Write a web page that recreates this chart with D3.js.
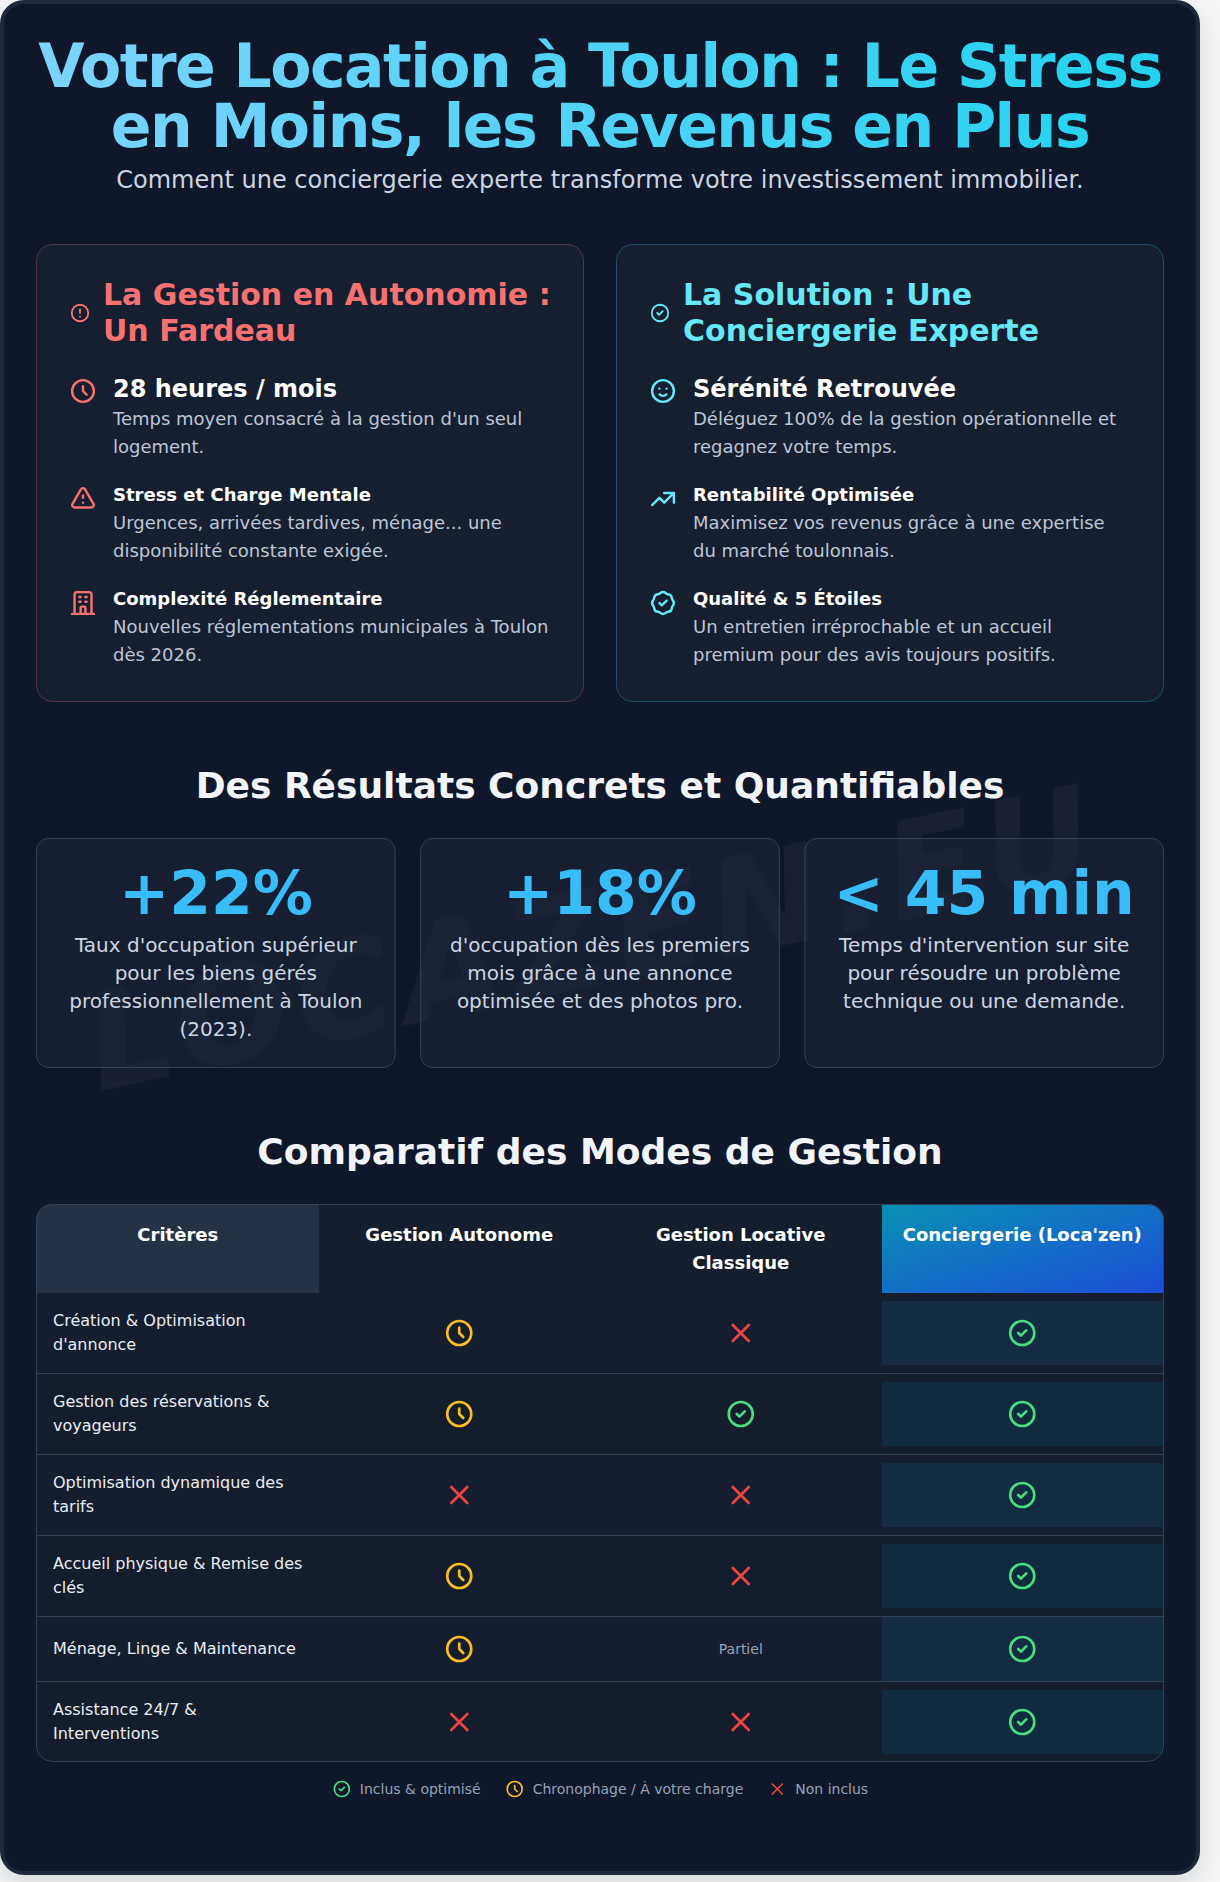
<!DOCTYPE html>
<html lang="fr">
<head>
<meta charset="utf-8">
<title>Votre Location à Toulon</title>
<script src="https://cdn.jsdelivr.net/npm/d3@7"></script>
<style>
  html, body { margin: 0; background: #f5f6f7; }
  svg { display: block; }
  text { font-family: "DejaVu Sans", sans-serif; }
</style>
</head>
<body>
<div id="visualization"></div>
<script>
// Text content
const titleLines = ['Votre Location à Toulon : Le Stress', 'en Moins, les Revenus en Plus'];
const subtitle = 'Comment une conciergerie experte transforme votre investissement immobilier.';
const watermark = "LOCAZEN.EU";

const problemHeading = ['La Gestion en Autonomie :', 'Un Fardeau'];
const problemIcons = ['clock', 'warning', 'building'];
const problemTitles = ['28 heures / mois', 'Stress et Charge Mentale', 'Complexité Réglementaire'];
const problemTexts = [
    ["Temps moyen consacré à la gestion d'un seul", 'logement.'],
    ['Urgences, arrivées tardives, ménage... une', 'disponibilité constante exigée.'],
    ['Nouvelles réglementations municipales à Toulon', 'dès 2026.']
];

const solutionHeading = ['La Solution : Une', 'Conciergerie Experte'];
const solutionIcons = ['smile', 'trend', 'badge'];
const solutionTitles = ['Sérénité Retrouvée', 'Rentabilité Optimisée', 'Qualité & 5 Étoiles'];
const solutionTexts = [
    ['Déléguez 100% de la gestion opérationnelle et', 'regagnez votre temps.'],
    ['Maximisez vos revenus grâce à une expertise', 'du marché toulonnais.'],
    ['Un entretien irréprochable et un accueil', 'premium pour des avis toujours positifs.']
];

const resultsTitle = 'Des Résultats Concrets et Quantifiables';
const statValues = ['+22%', '+18%', '< 45 min'];
const statTexts = [
    ["Taux d'occupation supérieur", 'pour les biens gérés', 'professionnellement à Toulon', '(2023).'],
    ["d'occupation dès les premiers", 'mois grâce à une annonce', 'optimisée et des photos pro.'],
    ["Temps d'intervention sur site", 'pour résoudre un problème', 'technique ou une demande.']
];

const tableTitle = 'Comparatif des Modes de Gestion';
const columnHeads = [
    ['Critères'],
    ['Gestion Autonome'],
    ['Gestion Locative', 'Classique'],
    ["Conciergerie (Loca'zen)"]
];
const criteria = [
    ['Création & Optimisation', "d'annonce"],
    ['Gestion des réservations &', 'voyageurs'],
    ['Optimisation dynamique des', 'tarifs'],
    ['Accueil physique & Remise des', 'clés'],
    ['Ménage, Linge & Maintenance'],
    ['Assistance 24/7 &', 'Interventions']
];
const autonomeStatus = ['time', 'time', 'no', 'time', 'time', 'no'];
const classiqueStatus = ['no', 'yes', 'no', 'no', 'partial', 'no'];
const conciergeStatus = ['yes', 'yes', 'yes', 'yes', 'yes', 'yes'];

const legendKeys = ['yes', 'time', 'no'];
const legendLabels = ['Inclus & optimisé', 'Chronophage / À votre charge', 'Non inclus'];

// Configuration
const config = {
    width: 1220,
    height: 1882,
    left: 36,
    right: 1164,
    center: 600
};

const colors = {
    page: '#0f172a',
    frame: '#1e293b',
    panel: '#161f30',
    red: '#f87171',
    cyan: '#67e8f9',
    sky: '#38bdf8',
    text: '#cbd5e1',
    soft: '#bcc6d6',
    heading: '#f1f5f9',
    line: '#334155',
    yes: '#4ade80',
    time: '#fbbf24',
    no: '#ef4444',
    muted: '#94a3b8'
};

// Outline icons, 24 unit box
const iconPaths = {
    alert: 'M12 8v4m0 4h.01M21 12a9 9 0 11-18 0 9 9 0 0118 0z',
    check: 'M9 12l2 2 4-4m6 2a9 9 0 11-18 0 9 9 0 0118 0z',
    clock: 'M12 8v4l3 3m6-3a9 9 0 11-18 0 9 9 0 0118 0z',
    cross: 'M6 18L18 6M6 6l12 12',
    warning: 'M12 9v2m0 4h.01m-6.938 4h13.856c1.54 0 2.502-1.667 1.732-3L13.732 4c-.77-1.333-2.694-1.333-3.464 0L3.34 16c-.77 1.333.192 3 1.732 3z',
    building: 'M19 21V5a2 2 0 00-2-2H7a2 2 0 00-2 2v16m14 0h2m-2 0h-5m-9 0H3m2 0h5M9 7h1m-1 4h1m4-4h1m-1 4h1m-5 10v-5a1 1 0 011-1h2a1 1 0 011 1v5m-4 0h4',
    smile: 'M14.828 14.828a4 4 0 01-5.656 0M9 10h.01M15 10h.01M21 12a9 9 0 11-18 0 9 9 0 0118 0z',
    trend: 'M13 7h8m0 0v8m0-8l-8 8-4-4-6 6',
    badge: 'M9 12l2 2 4-4M7.835 4.697a3.42 3.42 0 001.946-.806 3.42 3.42 0 014.438 0 3.42 3.42 0 001.946.806 3.42 3.42 0 013.138 3.138 3.42 3.42 0 00.806 1.946 3.42 3.42 0 010 4.438 3.42 3.42 0 00-.806 1.946 3.42 3.42 0 01-3.138 3.138 3.42 3.42 0 00-1.946.806 3.42 3.42 0 01-4.438 0 3.42 3.42 0 00-1.946-.806 3.42 3.42 0 01-3.138-3.138 3.42 3.42 0 00-.806-1.946 3.42 3.42 0 010-4.438 3.42 3.42 0 00.806-1.946 3.42 3.42 0 013.138-3.138z'
};

const statusIcons = {
    yes: { path: 'check', color: colors.yes },
    time: { path: 'clock', color: colors.time },
    no: { path: 'cross', color: colors.no }
};

// Create SVG
const svg = d3.select('#visualization')
    .append('svg')
    .attr('width', config.width)
    .attr('height', config.height);

const defs = svg.append('defs');

// Gradients and shadows
const titleGradient = defs.append('linearGradient')
    .attr('id', 'title-gradient')
    .attr('gradientUnits', 'userSpaceOnUse')
    .attr('x1', config.left).attr('x2', config.right)
    .attr('y1', 0).attr('y2', 0);
titleGradient.append('stop').attr('offset', 0).attr('stop-color', '#7dd3fc');
titleGradient.append('stop').attr('offset', 1).attr('stop-color', '#22d3ee');

const headGradient = defs.append('linearGradient')
    .attr('id', 'head-gradient')
    .attr('x1', 0).attr('y1', 0).attr('x2', 1).attr('y2', 1);
headGradient.append('stop').attr('offset', 0).attr('stop-color', '#0891b2');
headGradient.append('stop').attr('offset', 1).attr('stop-color', '#1d4ed8');

// sRGB filters, the default linear space shifts the dark fills
const shadow = defs.append('filter')
    .attr('id', 'frame-shadow')
    .attr('color-interpolation-filters', 'sRGB')
    .attr('x', '-10%').attr('y', '-10%')
    .attr('width', '120%').attr('height', '120%');
shadow.append('feDropShadow')
    .attr('dx', 0).attr('dy', 10)
    .attr('stdDeviation', 15)
    .attr('flood-color', '#000')
    .attr('flood-opacity', 0.12);

const cardShadow = defs.append('filter')
    .attr('id', 'card-shadow')
    .attr('color-interpolation-filters', 'sRGB')
    .attr('x', '-10%').attr('y', '-10%')
    .attr('width', '120%').attr('height', '125%');
cardShadow.append('feDropShadow')
    .attr('dx', 0).attr('dy', 4)
    .attr('stdDeviation', 6)
    .attr('flood-color', '#000')
    .attr('flood-opacity', 0.15);

// Draw several lines of text from one baseline
function drawLines(parent, lines, x, y, step, style) {
    const text = parent.append('text')
        .attr('font-size', style.size)
        .attr('font-weight', style.weight || 400)
        .attr('fill', style.fill)
        .attr('text-anchor', style.anchor || 'start');
    if (style.spacing) text.attr('letter-spacing', style.spacing);
    lines.forEach((line, i) => {
        text.append('tspan')
            .attr('x', x)
            .attr('y', y + i * step)
            .text(line);
    });
    return text;
}

// Draw an outline icon from its 24 unit path
function drawIcon(parent, name, cx, cy, size, color) {
    const scale = d3.scaleLinear().domain([0, 24]).range([0, size]);
    parent.append('path')
        .attr('d', iconPaths[name])
        .attr('transform', `translate(${cx - size / 2},${cy - size / 2}) scale(${scale(1)})`)
        .attr('fill', 'none')
        .attr('stroke', color)
        .attr('stroke-width', 2)
        .attr('stroke-linecap', 'round')
        .attr('stroke-linejoin', 'round');
}

// Frame
svg.append('rect')
    .attr('x', 2).attr('y', 2)
    .attr('width', 1196).attr('height', 1871)
    .attr('rx', 22)
    .attr('fill', colors.page)
    .attr('stroke', colors.frame)
    .attr('stroke-width', 4)
    .attr('filter', 'url(#frame-shadow)');

// Watermark sits behind every panel
svg.append('text')
    .attr('transform', 'translate(596,948) rotate(-12)')
    .attr('text-anchor', 'middle')
    .attr('dominant-baseline', 'middle')
    .attr('font-size', 134)
    .attr('font-weight', 700)
    .attr('font-style', 'italic')
    .attr('letter-spacing', 8.4)
    .attr('fill', '#ffffff')
    .attr('fill-opacity', 0.04)
    .text(watermark);

// Header
drawLines(svg, titleLines, config.center, 87, 60, {
    size: 60, weight: 700, fill: 'url(#title-gradient)', anchor: 'middle', spacing: -1.5
});
drawLines(svg, [subtitle], config.center, 188, 0, {
    size: 24, fill: colors.text, anchor: 'middle'
});

// Problem and solution panels
function drawPanel(x, accent, border, headIcon, heading, icons, titles, texts) {
    const panel = svg.append('g').attr('transform', `translate(${x},0)`);

    panel.append('rect')
        .attr('x', 0.5).attr('y', 244.5)
        .attr('width', 547).attr('height', 457)
        .attr('rx', 16)
        .attr('fill', colors.panel)
        .attr('stroke', border);

    drawIcon(panel, headIcon, 44, 313, 22, accent);
    drawLines(panel, heading, 67, 305, 36, { size: 30, weight: 700, fill: accent });

    const itemTops = [376, 484, 588];
    const titleBaselines = [397, 501, 605];
    icons.forEach((icon, i) => {
        drawIcon(panel, icon, 47, itemTops[i] + 15, 29, accent);
        drawLines(panel, [titles[i]], 77, titleBaselines[i], 0, {
            size: i === 0 ? 24 : 18, weight: 700, fill: '#ffffff'
        });
        drawLines(panel, texts[i], 77, titleBaselines[i] + 28, 28, {
            size: 18, fill: colors.soft
        });
    });
}

drawPanel(36, colors.red, 'rgba(248,113,113,0.3)', 'alert', problemHeading, problemIcons, problemTitles, problemTexts);
drawPanel(616, colors.cyan, 'rgba(34,211,238,0.3)', 'check', solutionHeading, solutionIcons, solutionTitles, solutionTexts);

// Results
drawLines(svg, [resultsTitle], config.center, 798, 0, {
    size: 36, weight: 700, fill: colors.heading, anchor: 'middle'
});

const statScale = d3.scaleBand()
    .domain(d3.range(statValues.length))
    .range([config.left, config.right])
    .paddingInner(24 / 376);

statValues.forEach((value, i) => {
    const x = statScale(i);
    const mid = x + statScale.bandwidth() / 2;
    svg.append('rect')
        .attr('x', x + 0.5).attr('y', 838.5)
        .attr('width', statScale.bandwidth() - 1).attr('height', 229)
        .attr('rx', 12)
        .attr('fill', 'rgba(30,41,59,0.5)')
        .attr('stroke', colors.line)
        .attr('filter', 'url(#card-shadow)');
    drawLines(svg, [value], mid, 914, 0, {
        size: 60, weight: 700, fill: colors.sky, anchor: 'middle'
    });
    drawLines(svg, statTexts[i], mid, 952, 28, {
        size: 20, fill: colors.text, anchor: 'middle'
    });
});

// Comparison table
drawLines(svg, [tableTitle], config.center, 1164, 0, {
    size: 36, weight: 700, fill: colors.heading, anchor: 'middle'
});

const tableTop = 1204;
const headHeight = 89;
const rowHeights = criteria.map(lines => (lines.length > 1 ? 81 : 65));
const rowTops = Array.from(d3.cumsum([tableTop + headHeight, ...rowHeights]));
const tableBottom = 1762;

const columnScale = d3.scaleBand()
    .domain(d3.range(columnHeads.length))
    .range([config.left + 1, config.right - 1]);

// Filled columns snap to whole pixels
const secondColumnX = Math.ceil(columnScale(1));
const lastColumnX = Math.ceil(columnScale(3));

defs.append('clipPath')
    .attr('id', 'table-clip')
    .append('rect')
    .attr('x', config.left).attr('y', tableTop)
    .attr('width', config.right - config.left)
    .attr('height', tableBottom - tableTop)
    .attr('rx', 16);

const table = svg.append('g').attr('clip-path', 'url(#table-clip)');

table.append('rect')
    .attr('x', config.left).attr('y', tableTop)
    .attr('width', config.right - config.left)
    .attr('height', tableBottom - tableTop)
    .attr('fill', '#151e2e');

table.append('rect')
    .attr('x', config.left).attr('y', tableTop)
    .attr('width', secondColumnX - config.left).attr('height', headHeight)
    .attr('fill', '#253145');

table.append('rect')
    .attr('x', lastColumnX).attr('y', tableTop)
    .attr('width', config.right - lastColumnX).attr('height', headHeight)
    .attr('fill', 'url(#head-gradient)');

columnHeads.forEach((lines, i) => {
    drawLines(table, lines, columnScale(i) + columnScale.bandwidth() / 2, 1241, 28, {
        size: 18, weight: 700, fill: '#ffffff', anchor: 'middle'
    });
});

criteria.forEach((lines, r) => {
    const top = rowTops[r];
    const rowHeight = r === criteria.length - 1 ? 80 : rowHeights[r] - 1;
    const mid = top + rowHeight / 2;

    if (r % 2 === 1) {
        table.append('rect')
            .attr('x', config.left).attr('y', top)
            .attr('width', config.right - config.left).attr('height', rowHeight)
            .attr('fill', '#141d2c');
    }

    // highlighted cell of the last column
    table.append('rect')
        .attr('x', lastColumnX).attr('y', mid - 32)
        .attr('width', config.right - 1 - lastColumnX).attr('height', 64)
        .attr('fill', r % 2 === 1 ? '#112b3e' : '#142c41');

    if (r < criteria.length - 1) {
        table.append('line')
            .attr('x1', config.left).attr('x2', config.right)
            .attr('y1', top + rowHeight + 0.5).attr('y2', top + rowHeight + 0.5)
            .attr('stroke', colors.line);
    }

    const firstBaseline = lines.length > 1 ? mid - 7 : mid + 5;
    drawLines(table, lines, config.left + 17, firstBaseline, 24, {
        size: 16, fill: '#e8edf3'
    });

    [autonomeStatus, classiqueStatus, conciergeStatus].forEach((column, c) => {
        const cx = columnScale(c + 1) + columnScale.bandwidth() / 2;
        const status = column[r];
        if (status === 'partial') {
            drawLines(table, ['Partiel'], cx, mid + 5, 0, {
                size: 14, fill: colors.muted, anchor: 'middle'
            });
        } else {
            drawIcon(table, statusIcons[status].path, cx, mid, 32, statusIcons[status].color);
        }
    });
});

svg.append('rect')
    .attr('x', config.left + 0.5).attr('y', tableTop + 0.5)
    .attr('width', config.right - config.left - 1)
    .attr('height', tableBottom - tableTop - 1)
    .attr('rx', 16)
    .attr('fill', 'none')
    .attr('stroke', colors.line);

// Legend, centred from the measured label widths
const legend = svg.append('g');
const legendTexts = legendLabels.map(label => legend.append('text')
    .attr('font-size', 14)
    .attr('fill', colors.muted)
    .attr('y', 1794)
    .text(label));
const labelWidths = legendTexts.map(t => t.node().getComputedTextLength());
const legendWidth = d3.sum(labelWidths) + legendKeys.length * 28 + (legendKeys.length - 1) * 24;
let legendX = config.center - legendWidth / 2;
legendKeys.forEach((key, i) => {
    drawIcon(legend, statusIcons[key].path, legendX + 10, 1789, 20, statusIcons[key].color);
    legendTexts[i].attr('x', legendX + 28);
    legendX += 28 + labelWidths[i] + 24;
});
</script>
</body>
</html>
